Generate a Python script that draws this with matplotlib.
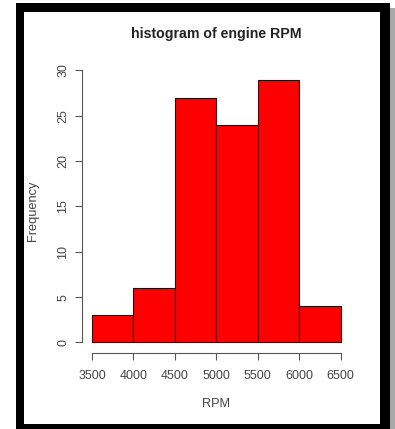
import matplotlib
matplotlib.use('Agg')
import matplotlib.pyplot as plt
import numpy as np
from matplotlib.patches import Rectangle

# histogram data
bin_edges = [3500, 4000, 4500, 5000, 5500, 6000, 6500]
counts = [3, 6, 27, 24, 29, 4]
x_ticks = [3500, 4000, 4500, 5000, 5500, 6000, 6500]
y_ticks = [0, 5, 10, 15, 20, 25, 30]

W, H = 395, 429
plt.rcParams['font.family'] = ['Liberation Sans', 'DejaVu Sans']

fig = plt.figure(figsize=(W / 100, H / 100), dpi=100)
fig.patch.set_facecolor('white')


def px_rect(x0, y0, x1, y1, color):
    # rectangle in pixel coords measured from the top-left corner
    r = Rectangle((x0 / W, 1 - y1 / H), (x1 - x0) / W, (y1 - y0) / H,
                  transform=fig.transFigure, facecolor=color, edgecolor='none', zorder=-10)
    fig.patches.append(r)


# framed screenshot look: drop shadow, black border, white inside
px_rect(390, 8, 395, 429, '#a8a8a8')
px_rect(16, 3, 390, 429, 'black')
px_rect(24, 12, 380, 424, 'white')

ax_l, ax_r, ax_t, ax_b = 82, 350.6, 69, 353
ax = fig.add_axes([ax_l / W, 1 - ax_b / H, (ax_r - ax_l) / W, (ax_b - ax_t) / H])
ax.patch.set_alpha(0)

edges = np.array(bin_edges)
ax.bar(edges[:-1], counts, width=np.diff(edges), align='edge',
       color='#ff0000', edgecolor='#3a0000', linewidth=0.8)

ax.set_xlim(3380, 6620)
ax.set_ylim(-1.16, 30.16)
for s in ['top', 'right']:
    ax.spines[s].set_visible(False)
ax.spines['left'].set_bounds(0, 30)
ax.spines['bottom'].set_bounds(3500, 6500)
for s in ['left', 'bottom']:
    ax.spines[s].set_color('#555555')
    ax.spines[s].set_linewidth(0.8)

ax.set_xticks(x_ticks)
ax.set_yticks(y_ticks)
ax.tick_params(direction='out', length=4.8, width=0.8, color='#555555',
               labelcolor='#444444', labelsize=9)
ax.tick_params(axis='x', pad=7.5)
ax.tick_params(axis='y', pad=4.5)
for lab in ax.get_yticklabels():
    lab.set_rotation(90)
    lab.set_va('center')

axw, axh = ax_r - ax_l, ax_b - ax_t
ax.set_title('histogram of engine RPM', fontsize=10.2, fontweight='bold',
             color='#222222', y=1 + 27 / axh, va='center')
ax.set_xlabel('RPM', fontsize=9.2, color='#444444', va='center')
ax.xaxis.set_label_coords(0.5, -51 / axh)
ax.set_ylabel('Frequency', fontsize=9.2, color='#444444', va='center')
ax.yaxis.set_label_coords(-48.7 / axw, 0.5)

fig.savefig('out.png', dpi=100)
